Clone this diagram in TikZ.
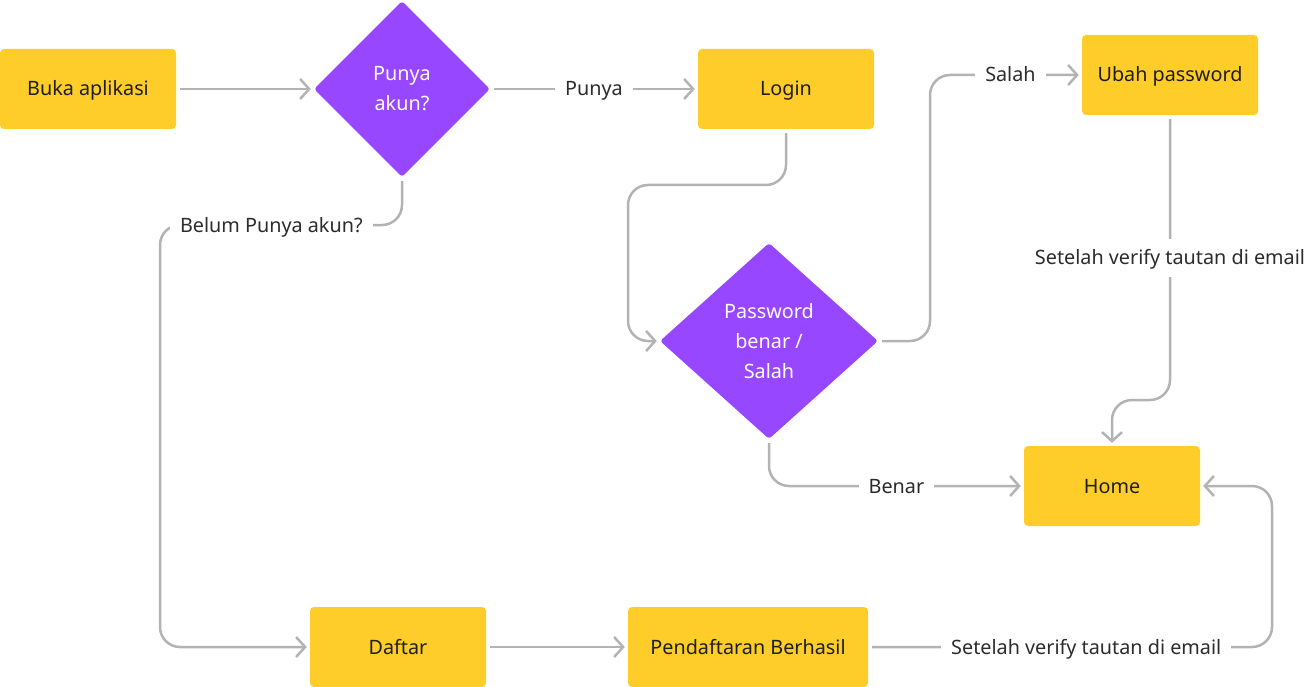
\documentclass[tikz,border=0pt]{standalone}
\usepackage{fontspec}
\setmainfont{Noto Sans}
\usetikzlibrary{shapes.geometric,arrows.meta}
\definecolor{ybox}{HTML}{FFCD29}
\definecolor{pdia}{HTML}{9747FF}
\definecolor{linegray}{HTML}{B3B3B3}
\definecolor{lbltext}{HTML}{2C2C2C}
\definecolor{boxtext}{HTML}{1E1E1E}
\begin{document}
\begin{tikzpicture}[x=1pt,y=-1pt,
 box/.style={fill=ybox, rounded corners=4pt, minimum width=176pt, minimum height=80pt, inner sep=0pt, font=\fontsize{19.8}{24}\selectfont, text=boxtext, text height=14pt, text depth=0pt},
 dia/.style={diamond, fill=pdia, rounded corners=3pt, inner sep=0pt, font=\fontsize{19.8}{30}\selectfont, text=white, align=center},
 conn/.style={draw=linegray, line width=2.5pt, rounded corners=20pt, shorten <=4pt, shorten >=3pt, -{Straight Barb[length=9pt,width=20pt]}},
 lbl/.style={fill=white, sharp corners, text=lbltext, font=\fontsize{19.8}{24}\selectfont, inner xsep=10pt, inner ysep=12pt, text height=14pt, text depth=0pt}
]
\useasboundingbox (0,0) rectangle (1316,687);

\node[box] (buka) at (88,89) {Buka aplikasi};
\node[dia, minimum width=176pt, minimum height=176pt] (punya) at (402,89) {Punya\\akun?};
\node[box] (login) at (786,89) {Login};
\node[box] (ubah) at (1170,75) {Ubah password};
\node[dia, minimum width=218pt, minimum height=196pt] (pass) at (769,341) {Password\\benar /\\Salah};
\node[box] (home) at (1112,486) {Home};
\node[box] (daftar) at (398,647) {Daftar};
\node[box, minimum width=240pt] (berhasil) at (748,647) {Pendaftaran Berhasil};

\draw[conn] (buka.east) -- (punya.west);
\draw[conn] (punya.east) -- node[lbl] (lpunya) {Punya} (login.west);
\draw[conn] (login.south) -- (786,185) -- (628,185) -- (628,341) -- (pass.west);
\draw[conn] (punya.south) -- (402,225) -- node[lbl, pos=0.54] (lbelum) {Belum Punya akun?} (160,225) -- (160,647) -- (daftar.west);
\draw[conn] (pass.east) -- (930,341) -- (930,75) -- node[lbl, pos=0.53] (lsalah) {Salah} (ubah.west);
\draw[conn] (ubah.south) -- node[lbl] (lverif1) {Setelah verify tautan di email} (1170,400) -- (1112,400) -- (home.north);
\draw[conn] (pass.south) -- (769,486) -- node[lbl] (lbenar) {Benar} (home.west);
\draw[conn] (daftar.east) -- (berhasil.west);
\draw[conn] (berhasil.east) -- node[lbl, pos=0.54] (lverif2) {Setelah verify tautan di email} (1272,647) -- (1272,486) -- (home.east);
\end{tikzpicture}
\end{document}
